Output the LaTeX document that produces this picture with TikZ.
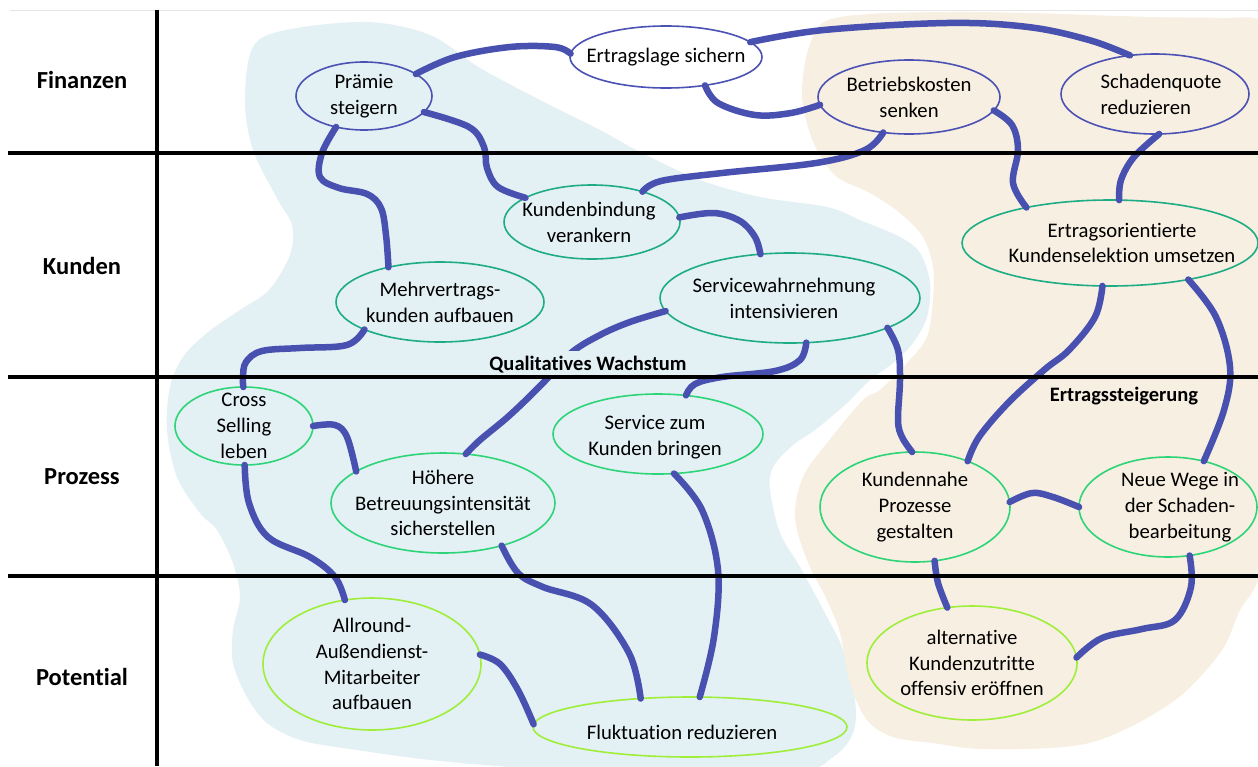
\documentclass[tikz,border=0pt]{standalone}
\usepackage{fontspec}
\setmainfont{Carlito}[Ligatures={NoCommon}]
\usetikzlibrary{shapes.geometric}

\definecolor{connC}{RGB}{72,80,176}
\definecolor{finB}{RGB}{75,82,180}
\definecolor{kunT}{RGB}{30,172,132}
\definecolor{proG}{RGB}{45,212,120}
\definecolor{potG}{RGB}{158,238,58}
\definecolor{cloudA}{RGB}{227,240,244}
\definecolor{cloudB}{RGB}{247,239,225}

\begin{document}
\begin{tikzpicture}[x=1pt,y=-1pt,
  ellbase/.style={ellipse, draw, line width=1.6pt, inner sep=0pt, outer sep=0pt},
  fin/.style={ellbase, draw=finB},
  kun/.style={ellbase, draw=kunT},
  pro/.style={ellbase, draw=proG},
  pot/.style={ellbase, draw=potG},
  txt/.style={align=center, font=\fontsize{20.7}{25.8}\selectfont, inner sep=0pt},
  lane/.style={font=\bfseries\fontsize{24.5}{29}\selectfont, inner sep=0pt},
  grp/.style={font=\bfseries\fontsize{20.5}{24}\selectfont},
  link/.style={draw=connC, line width=6.5pt, line cap=round},
  rule/.style={line width=3.2pt, draw=black},
]
\useasboundingbox (0,0) rectangle (1258,766);
\fill[white] (0,0) rectangle (1258,766);

% two background regions
\fill[cloudA] plot[smooth cycle, tension=0.55] coordinates {
  (253,47) (286,30) (367,22) (430,35) (480,68) (540,100) (600,130) (640,152)
  (700,180) (760,197) (827,207) (860,220) (900,237) (920,253) (930,283)
  (927,317) (913,343) (893,363) (870,380) (847,403) (815,430) (793,445)
  (773,467) (770,490) (780,533) (800,567) (827,617) (843,650) (855,700)
  (853,733) (833,757) (790,772) (600,772) (450,762) (350,749) (300,740)
  (267,723) (247,697) (233,663) (233,630) (240,597) (233,563) (217,530)
  (200,513) (177,477) (167,430) (170,387) (183,357) (207,333) (240,310)
  (269,290) (290,255) (292,225) (278,200) (253,150) (245,100)};
\fill[cloudB] plot[smooth cycle, tension=0.55] coordinates {
  (808,50) (824,22) (870,14) (950,12) (1028,13) (1150,17) (1220,18)
  (1262,22) (1268,70) (1268,520) (1258,580) (1240,610) (1220,653)
  (1171,703) (1089,743) (987,749)
  (933,743) (893,737) (867,720) (850,683) (840,633) (827,600) (807,560)
  (795,517) (803,477) (827,443) (863,400) (880,390) (907,363) (927,337)
  (933,300) (933,267) (923,237) (900,213) (870,193) (837,177) (817,150)
  (806,120) (802,90)};

% faint top edge
\draw[black!10, line width=1pt] (10,10) -- (1258,10);

% Finanzen
\node[fin, minimum width=192pt, minimum height=62pt,
  label={[txt]center:Ertragslage sichern}] (ertrag) at (666,57) {};
\node[fin, minimum width=136pt, minimum height=68pt,
  label={[txt]center:Prämie\\steigern}] (praemie) at (364,96) {};
\node[fin, minimum width=182pt, minimum height=74pt,
  label={[txt]center:Betriebskosten\\senken}] (betrieb) at (909,97) {};
\node[fin, minimum width=188pt, minimum height=80pt,
  label={[txt, align=left, xshift=6pt]center:Schadenquote\\reduzieren}] (schaden) at (1155,94) {};

% Kunden
\node[kun, minimum width=176pt, minimum height=74pt,
  label={[txt, xshift=-3pt]center:Kundenbindung\\verankern}] (kbind) at (592,222) {};
\node[kun, minimum width=296pt, minimum height=86pt,
  label={[txt, xshift=12pt]center:Ertragsorientierte\\Kundenselektion umsetzen}] (ertso) at (1110,243) {};
\node[kun, minimum width=208pt, minimum height=80pt,
  label={[txt]center:Mehrvertrags-\\kunden aufbauen}] (mehr) at (440,302) {};
\node[kun, minimum width=260pt, minimum height=90pt,
  label={[txt, xshift=-6pt]center:Servicewahrnehmung\\intensivieren}] (service) at (790,298) {};

% Prozess
\node[pro, minimum width=138pt, minimum height=78pt,
  label={[txt]center:Cross\\Selling\\leben}] (cross) at (244,426) {};
\node[pro, minimum width=224pt, minimum height=100pt,
  label={[txt]center:Höhere\\Betreuungsintensität\\sicherstellen}] (hoehere) at (443,503) {};
\node[pro, minimum width=210pt, minimum height=80pt,
  label={[txt, xshift=-3pt, yshift=-3pt]center:Service zum\\Kunden bringen}] (szk) at (658,434) {};
\node[pro, minimum width=190pt, minimum height=110pt,
  label={[txt]center:Kundennahe\\Prozesse\\gestalten}] (knah) at (915,507) {};
\node[pro, minimum width=178pt, minimum height=100pt,
  label={[txt, xshift=12pt]center:Neue Wege in\\der Schaden-\\bearbeitung}] (neue) at (1168,507) {};

% Potential
\node[pot, minimum width=218pt, minimum height=132pt,
  label={[txt]center:Allround-\\Außendienst-\\Mitarbeiter\\aufbauen}] (allround) at (372,664) {};
\node[pot, minimum width=314pt, minimum height=60pt,
  label={[txt, xshift=-8pt, yshift=-5pt]center:Fluktuation reduzieren}] (fluk) at (690,727) {};
\node[pot, minimum width=210pt, minimum height=114pt,
  label={[txt]center:alternative\\Kundenzutritte\\offensiv eröffnen}] (altern) at (972,663) {};

% connectors
\draw[link] plot[smooth, tension=0.6] coordinates {(praemie.23) (455,57) (510,47) (555,47) (ertrag.178)};
\draw[link] plot[smooth, tension=0.6] coordinates {(ertrag.10) (824,30) (947,23) (1028,27) (1089,40) (schaden.123)};
\draw[link] plot[smooth, tension=0.6] coordinates {(ertrag.-36) (718,103) (755,115) (791,113) (betrieb.185)};
\draw[link] plot[smooth, tension=0.6] coordinates {(betrieb.234) (865,150) (816,163) (722,173) (661,181) (kbind.31)};
\draw[link] plot[smooth, tension=0.6] coordinates {(betrieb.-9) (1012,125) (1018,150) (1013,183) (ertso.157)};
\draw[link] plot[smooth, tension=0.6] coordinates {(schaden.-84) (1134,157) (1121,180) (ertso.78)};
\draw[link] plot[smooth, tension=0.6] coordinates {(praemie.-15) (469,127) (484,147) (487,168) (498,187) (kbind.160)};
\draw[link] plot[smooth, tension=0.6] coordinates {(praemie.228) (322,153) (320,177) (339,188) (367,194) (381,208) (386,235) (mehr.146)};
\draw[link] plot[smooth, tension=0.6] coordinates {(kbind.3) (714,213) (740,221) (755,237) (service.124)};
\draw[link] plot[smooth, tension=0.6] coordinates {(mehr.200) (347,345) (300,348) (262,351) (246,362) (243,377) (cross.91)};
\draw[link] plot[smooth, tension=0.6] coordinates {(service.186) (630,322) (600,335) (571,353) (543,383) (510,415) (480,440) (hoehere.65)};
\draw[link] plot[smooth, tension=0.6] coordinates {(service.-70) (800,360) (775,371) (722,377) (695,384) (szk.54)};
\draw[link] plot[smooth, tension=0.6] coordinates {(service.-17) (898,350) (900,380) (898,420) (902,437) (knah.93)};
\draw[link] plot[smooth, tension=0.6] coordinates {(ertso.-100) (1095,317) (1069,350) (1044,370) (1008,403) (979,437) (knah.41)};
\draw[link] plot[smooth, tension=0.6] coordinates {(ertso.-25) (1216,317) (1230,367) (1224,410) (neue.52)};
\draw[link] plot[smooth, tension=0.6] coordinates {(cross.0) (335,425) (347,437) (hoehere.160)};
\draw[link] plot[smooth, tension=0.6] coordinates {(cross.-89) (249,503) (268,537) (310,557) (335,577) (allround.113)};
\draw[link] plot[smooth, tension=0.6] coordinates {(hoehere.-36) (518,573) (543,587) (592,605) (629,653) (fluk.150)};
\draw[link] plot[smooth, tension=0.6] coordinates {(allround.5) (500,664) (518,690) (fluk.179)};
\draw[link] plot[smooth, tension=0.6] coordinates {(szk.-68) (702,510) (718,570) (714,637) (fluk.72)};
\draw[link] plot[smooth, tension=0.6] coordinates {(knah.3) (1032,493) (1053,497) (neue.180)};
\draw[link] plot[smooth, tension=0.6] coordinates {(knah.-70) (938,583) (altern.114)};
\draw[link] plot[smooth, tension=0.6] coordinates {(neue.-66) (1191,587) (1175,620) (1142,629) (1102,638) (altern.3)};

% group captions
\node[grp, fill=cloudA, inner xsep=1pt, inner ysep=6pt] (qw) at (588,365) {Qualitatives Wachstum};
\node[grp] (es) at (1124,396) {Ertragssteigerung};

% lane grid
\draw[rule] (157,10) -- (157,766);
\draw[rule] (8,153) -- (1258,153);
\draw[rule] (8,377) -- (1258,377);
\draw[rule] (8,576) -- (1258,576);

% lane titles
\node[lane] (l1) at (82,80) {Finanzen};
\node[lane] (l2) at (82,266) {Kunden};
\node[lane] (l3) at (82,477) {Prozess};
\node[lane] (l4) at (82,677) {Potential};
\end{tikzpicture}
\end{document}
